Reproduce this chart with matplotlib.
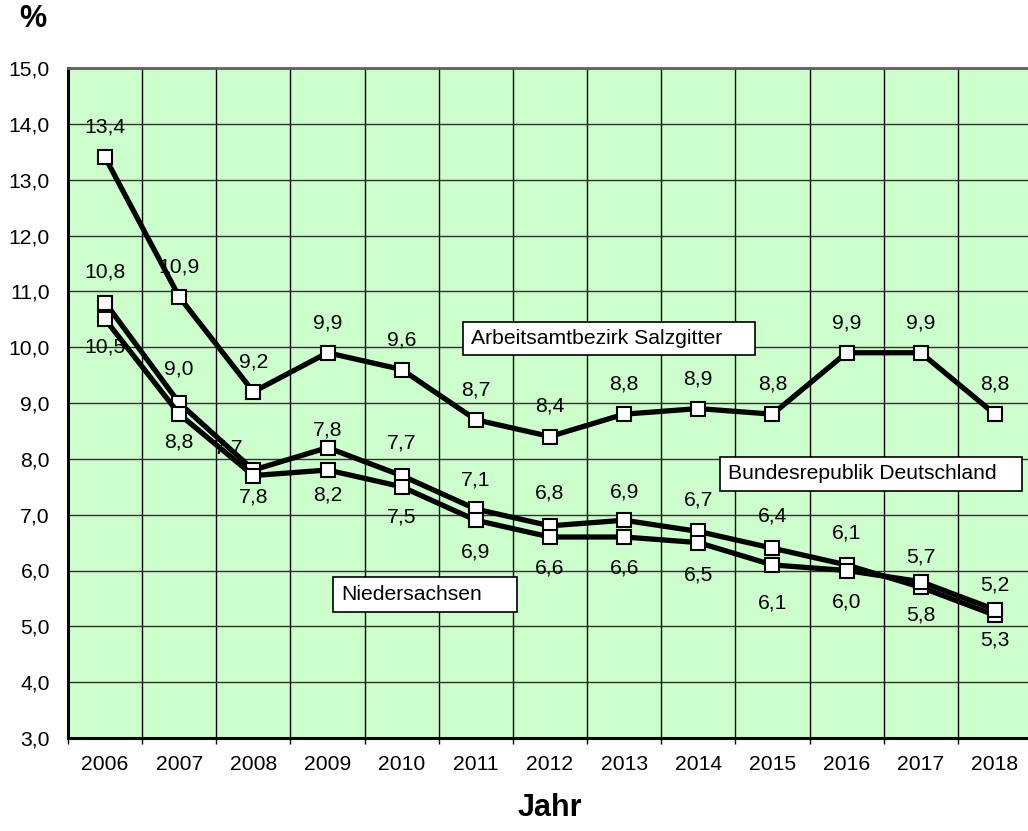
import matplotlib
matplotlib.use("Agg")
import matplotlib.pyplot as plt
from matplotlib.patches import Rectangle
from matplotlib.ticker import FixedLocator, FuncFormatter

plt.rcParams['font.family'] = ['Liberation Sans', 'DejaVu Sans']

years = ['2006', '2007', '2008', '2009', '2010', '2011', '2012',
         '2013', '2014', '2015', '2016', '2017', '2018']
salzgitter = [13.4, 10.9, 9.2, 9.9, 9.6, 8.7, 8.4, 8.8, 8.9, 8.8, 9.9, 9.9, 8.8]
bund = [10.8, 9.0, 7.8, 8.2, 7.7, 7.1, 6.8, 6.9, 6.7, 6.4, 6.1, 5.7, 5.2]
nds = [10.5, 8.8, 7.7, 7.8, 7.5, 6.9, 6.6, 6.6, 6.5, 6.1, 6.0, 5.8, 5.3]

# label offsets in pixels (positive = below the point)
salz_dy = [-30] * 13
bund_dy = [-30, -34, 27, 47, -33, -29, -33, -28, -31, -32, -32, -30, -30]
nds_dy = [28, 28, -28, -40, 30, 32, 31, 31, 32, 38, 32, 33, 30]
nds_dx = [0, 0, -25, 0, 0, 0, 0, 0, 0, 0, 0, 0, 0]

W, H = 1028, 831
fig = plt.figure(figsize=(W / 100, H / 100), dpi=100)
x0, x1, y0, y1 = 68, 1032, 68, 738
ax = fig.add_axes([x0 / W, 1 - y1 / H, (x1 - x0) / W, (y1 - y0) / H])
ax.set_facecolor('#CCFFCC')

x = list(range(len(years)))
style = dict(color='black', lw=3.8, marker='s', ms=10, mfc='white',
             mec='black', mew=1.5, solid_joinstyle='miter')
ax.plot(x, salzgitter, zorder=3, **style)
ax.plot(x, bund, zorder=4, **style)
ax.plot(x, nds, zorder=5, **style)

fs = 15.2


def fmt(v):
    return f'{v:.1f}'.replace('.', ',')


def put_labels(vals, dys, dxs=None):
    for i, v in enumerate(vals):
        dx = dxs[i] if dxs else 0
        ax.annotate(fmt(v), (i, v), xytext=(dx * 0.72, -dys[i] * 0.72),
                    textcoords='offset points', ha='center', va='center',
                    fontsize=fs, zorder=6)


put_labels(salzgitter, salz_dy)
put_labels(bund, bund_dy)
put_labels(nds, nds_dy, nds_dx)

ax.set_xlim(-0.5, 12.5)
ax.set_ylim(3, 15)
ax.set_yticks([3 + i for i in range(13)])
ax.yaxis.set_major_formatter(FuncFormatter(lambda v, p: fmt(v)))
ax.set_xticks(x)
ax.set_xticklabels(years)
ax.xaxis.set_minor_locator(FixedLocator([i - 0.5 for i in range(14)]))
ax.tick_params(axis='x', which='major', length=0, pad=12, labelsize=fs)
ax.tick_params(axis='x', which='minor', length=4, width=1, direction='out')
ax.tick_params(axis='y', length=0, pad=13, labelsize=fs)

ax.grid(axis='y', which='major', color='#303030', lw=1)
ax.grid(axis='x', which='minor', color='black', lw=1)
ax.set_axisbelow(True)

for side in ['left', 'bottom']:
    ax.spines[side].set_linewidth(2.2)
ax.spines['top'].set_color('#606060')
ax.spines['top'].set_linewidth(2)
ax.spines['right'].set_visible(False)

# series name boxes
boxes = [
    ('Arbeitsamtbezirk Salzgitter', 4.823, 8.765, 9.86, 10.456),
    ('Bundesrepublik Deutschland', 8.293, 12.366, 7.429, 8.038),
    ('Niedersachsen', 3.074, 5.555, 5.256, 5.883),
]
for name, bx0, bx1, by0, by1 in boxes:
    ax.add_patch(Rectangle((bx0, by0), bx1 - bx0, by1 - by0, facecolor='white',
                           edgecolor='black', lw=1.2, zorder=7))
    ax.annotate(name, (bx0, (by0 + by1) / 2), xytext=(6, 0),
                textcoords='offset points', ha='left', va='center',
                fontsize=fs, zorder=8)

fig.text(33 / W, 1 - 19 / H, '%', fontsize=22, fontweight='bold',
         ha='center', va='center')
fig.text(550 / W, 1 - 808 / H, 'Jahr', fontsize=22, fontweight='bold',
         ha='center', va='center')

fig.savefig('out.png', dpi=100)
